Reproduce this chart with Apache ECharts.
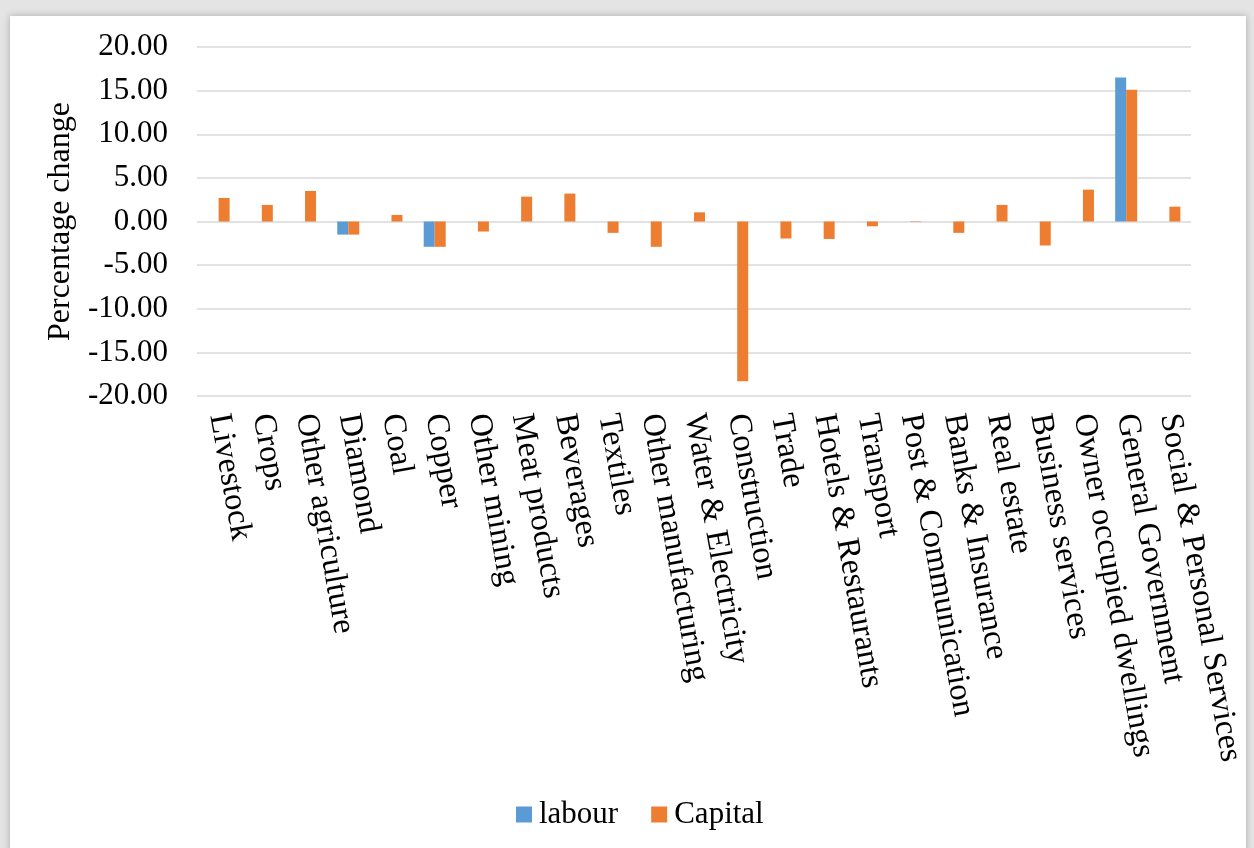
<!DOCTYPE html>
<html>
<head>
<meta charset="utf-8">
<script src="https://cdn.jsdelivr.net/npm/echarts@6/dist/echarts.min.js"></script>
<style>
  html, body { margin: 0; padding: 0; width: 1254px; height: 848px; overflow: hidden; background: #e4e4e4; }
  #frame { position: absolute; left: 10px; top: 16px; width: 1236px; height: 850px; background: #fff; box-shadow: 0 0 7px rgba(0,0,0,0.25); }
  #chart { position: absolute; left: 0; top: 0; width: 1254px; height: 848px; }
</style>
</head>
<body>
<div id="frame"></div>
<div id="chart"></div>
<script>
const categories = ["Livestock", "Crops", "Other agriculture", "Diamond", "Coal", "Copper", "Other mining", "Meat products", "Beverages", "Textiles", "Other manufacturing", "Water & Electricity", "Construction", "Trade", "Hotels & Restaurants", "Transport", "Post & Communication", "Banks & Insurance", "Real estate", "Business services", "Owner occupied dwellings", "General Government", "Social & Personal Services"];
const labour = [0, 0, 0, -1.5, 0, -2.9, 0, 0, 0, 0, 0, 0, 0, 0, 0, 0, 0, 0, 0, 0, 0, 16.5, 0];
const capital = [2.7, 1.9, 3.5, -1.5, 0.75, -2.9, -1.15, 2.85, 3.2, -1.3, -2.9, 1.05, -18.3, -1.95, -2.0, -0.55, 0.05, -1.3, 1.9, -2.75, 3.65, 15.1, 1.7];
const yTicks = { min: -20, max: 20, interval: 5 };

const font = '"Liberation Serif", "Times New Roman", serif';
const chart = echarts.init(document.getElementById('chart'), null, { renderer: 'canvas' });
chart.setOption({
  animation: false,
  backgroundColor: 'transparent',
  grid: { left: 197, right: 63, top: 47, bottom: 452, containLabel: false },
  legend: {
    data: ['labour', 'Capital'],
    left: 511, top: 794,
    itemWidth: 16, itemHeight: 16, itemGap: 33,
    icon: 'rect',
    textStyle: { fontFamily: font, fontSize: 31, color: '#000', padding: [0, 0, 0, 2] }
  },
  xAxis: {
    type: 'category',
    data: categories,
    axisLine: { show: false, onZero: false },
    axisTick: { show: false },
    axisLabel: { rotate: -80, margin: 18, interval: 0, fontFamily: font, fontSize: 32.5, color: '#000' }
  },
  yAxis: {
    type: 'value',
    min: yTicks.min, max: yTicks.max, interval: yTicks.interval,
    name: 'Percentage change',
    nameLocation: 'middle',
    nameGap: 110,
    nameTextStyle: { fontFamily: font, fontSize: 32, color: '#000' },
    axisLine: { show: false },
    axisTick: { show: false },
    axisLabel: { margin: 29, fontFamily: font, fontSize: 31, color: '#000', formatter: v => v.toFixed(2) },
    splitLine: { lineStyle: { color: '#d9d9d9', width: 1.5 } }
  },
  series: [
    { name: 'labour', type: 'bar', data: labour, barWidth: 11, barGap: '0%', itemStyle: { color: '#5B9BD5' } },
    { name: 'Capital', type: 'bar', data: capital, barWidth: 11, barGap: '0%', itemStyle: { color: '#ED7D31' } }
  ]
});
</script>
</body>
</html>
